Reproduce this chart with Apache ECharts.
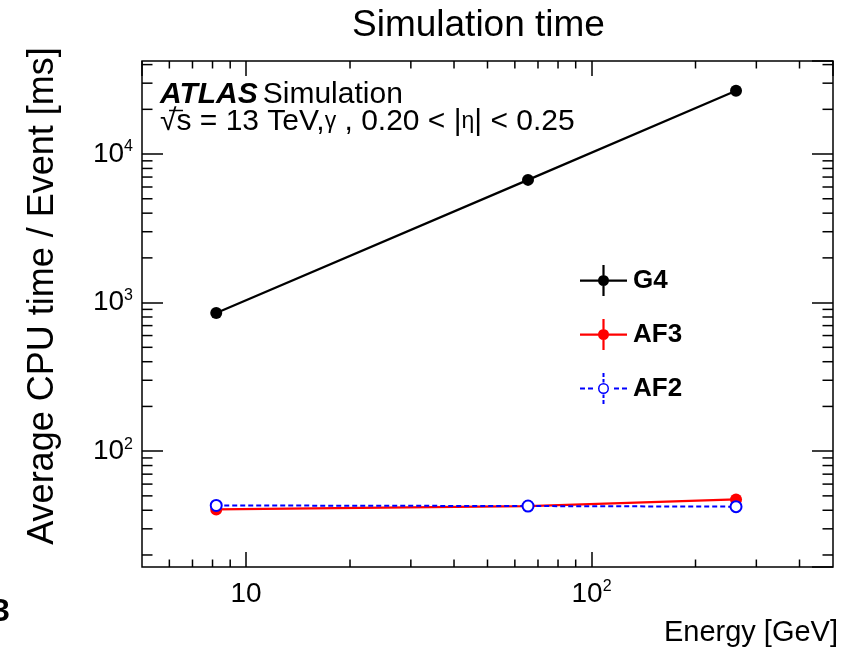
<!DOCTYPE html>
<html>
<head>
<meta charset="utf-8">
<script src="https://cdn.jsdelivr.net/npm/echarts@6/dist/echarts.min.js"></script>
<style>
  html, body { margin: 0; padding: 0; background: #fff; }
  #chart { width: 855px; height: 654px; }
</style>
</head>
<body>
<div id="chart"></div>
<script>
// photon energies [GeV]
const energies = [8.2, 65.5, 262]
// average CPU time per event [ms]
const g4 = [850, 6700, 26700]
const af3 = [40.5, 42.7, 47.3]
const af2 = [43.1, 42.7, 42.3]

const xRange = [5, 500]
const yRange = [16.6, 42300]
const xMinorTicks = [6, 7, 8, 9, 20, 30, 40, 50, 60, 70, 80, 90, 200, 300, 400]
const yMinorTicks = [20, 30, 40, 50, 60, 70, 80, 90,
  200, 300, 400, 500, 600, 700, 800, 900,
  2000, 3000, 4000, 5000, 6000, 7000, 8000, 9000,
  20000, 30000, 40000]

const FONT = '"Liberation Sans", Arial, Helvetica, sans-serif'
const BLACK = '#000000'
const RED = '#ff0000'
const BLUE = '#0000ff'

const chart = echarts.init(document.getElementById('chart'))

// "10", "10^2" ... only on exact decades
const powLabel = (v) => {
  const e = Math.log10(v)
  const r = Math.round(e)
  if (Math.abs(e - r) > 1e-6) return ''
  return r === 1 ? '{b|10}' : '{b|10}{s|' + r + '}'
}
const labelRich = {
  b: { fontSize: 28, lineHeight: 30, fontFamily: FONT, color: BLACK },
  s: { fontSize: 16, lineHeight: 16, fontFamily: FONT, color: BLACK, verticalAlign: 'top' }
}

// legend icons drawn in a 47 x 31 box
const rect = (x, y, w, h) => `M${x} ${y}h${w}v${h}h${-w}Z`
const dot = (cx, cy, r, sweep) =>
  `M${cx - r} ${cy}a${r} ${r} 0 1 ${sweep} ${2 * r} 0a${r} ${r} 0 1 ${sweep} ${-2 * r} 0Z`
const solidIcon = 'path://' + rect(0, 14.5, 47, 2.2) + rect(22.4, 0, 2.2, 31) + dot(23.5, 15.5, 5.5, 1)
const dashedIcon = 'path://' +
  rect(0, 14.5, 5, 2) + rect(8, 14.5, 5, 2) + rect(34, 14.5, 5, 2) + rect(42, 14.5, 5, 2) +
  rect(22.5, 0, 2, 4) + rect(22.5, 6, 2, 3.5) + rect(22.5, 21.5, 2, 3.5) + rect(22.5, 27, 2, 4) +
  dot(23.5, 15.5, 5.5, 1) + dot(23.5, 15.5, 4, 0)

const tickStyle = { color: BLACK, width: 1.5 }

const minorX = (params, api) => {
  const cs = params.coordSys
  const x = api.coord([api.value(0), api.value(1)])[0]
  const bottom = cs.y + cs.height
  return {
    type: 'group',
    children: [
      { type: 'line', shape: { x1: x, y1: bottom, x2: x, y2: bottom - 7.5 }, style: { stroke: BLACK, lineWidth: 1.5 } },
      { type: 'line', shape: { x1: x, y1: cs.y, x2: x, y2: cs.y + 7.5 }, style: { stroke: BLACK, lineWidth: 1.5 } }
    ]
  }
}
const minorY = (params, api) => {
  const cs = params.coordSys
  const y = api.coord([api.value(0), api.value(1)])[1]
  const right = cs.x + cs.width
  return {
    type: 'group',
    children: [
      { type: 'line', shape: { x1: cs.x, y1: y, x2: cs.x + 10.5, y2: y }, style: { stroke: BLACK, lineWidth: 1.5 } },
      { type: 'line', shape: { x1: right, y1: y, x2: right - 10.5, y2: y }, style: { stroke: BLACK, lineWidth: 1.5 } }
    ]
  }
}

chart.setOption({
  animation: false,
  backgroundColor: '#fff',
  title: [
    {
      text: 'Simulation time',
      left: 352,
      top: 7,
      padding: 0,
      textStyle: { fontFamily: FONT, fontSize: 37, fontWeight: 'normal', color: BLACK }
    },
    {
      text: '{a|ATLAS} {n|Simulation}\n{n|√s = 13 TeV,}{g|γ}{n| , 0.20 < |}{g|η}{n|| < 0.25}',
      left: 160,
      top: 81,
      padding: 0,
      textStyle: {
        fontWeight: 'normal',
        rich: {
          a: { fontFamily: FONT, fontSize: 30, fontWeight: 'bold', fontStyle: 'italic', color: BLACK, lineHeight: 27 },
          n: { fontFamily: FONT, fontSize: 30, fontWeight: 'normal', color: BLACK, lineHeight: 27 },
          g: { fontFamily: FONT, fontSize: 23, fontWeight: 'normal', color: BLACK, lineHeight: 27 }
        }
      }
    }
  ],
  legend: {
    orient: 'vertical',
    left: 580,
    top: 265,
    padding: 0,
    itemWidth: 47,
    itemHeight: 31,
    itemGap: 23,
    selectedMode: false,
    textStyle: { fontFamily: FONT, fontSize: 26, fontWeight: 'bold', color: BLACK, padding: [0, 0, 0, 1] },
    data: [
      { name: 'G4', icon: solidIcon, itemStyle: { color: BLACK, borderWidth: 0 } },
      { name: 'AF3', icon: solidIcon, itemStyle: { color: RED, borderWidth: 0 } },
      { name: 'AF2', icon: dashedIcon, itemStyle: { color: BLUE, borderWidth: 0 } }
    ]
  },
  grid: {
    left: 142,
    top: 61,
    width: 691,
    height: 506,
    show: true,
    borderColor: BLACK,
    borderWidth: 1.5,
    backgroundColor: 'transparent'
  },
  xAxis: [
    {
      type: 'log',
      logBase: 10,
      min: xRange[0],
      max: xRange[1],
      position: 'bottom',
      axisLine: { show: false },
      axisTick: { inside: true, length: 15, lineStyle: tickStyle },
      splitLine: { show: false },
      axisLabel: { margin: 12, formatter: powLabel, rich: labelRich, showMinLabel: false, showMaxLabel: false }
    },
    {
      type: 'log',
      logBase: 10,
      min: xRange[0],
      max: xRange[1],
      position: 'top',
      axisLine: { show: false },
      axisTick: { inside: true, length: 15, lineStyle: tickStyle },
      splitLine: { show: false },
      axisLabel: { show: false }
    }
  ],
  yAxis: [
    {
      type: 'log',
      logBase: 10,
      min: yRange[0],
      max: yRange[1],
      position: 'left',
      axisLine: { show: false },
      axisTick: { inside: true, length: 21, lineStyle: tickStyle },
      splitLine: { show: false },
      axisLabel: { margin: 9, formatter: powLabel, rich: labelRich, showMinLabel: false, showMaxLabel: false }
    },
    {
      type: 'log',
      logBase: 10,
      min: yRange[0],
      max: yRange[1],
      position: 'right',
      axisLine: { show: false },
      axisTick: { inside: true, length: 21, lineStyle: tickStyle },
      splitLine: { show: false },
      axisLabel: { show: false }
    }
  ],
  graphic: [
    {
      type: 'text',
      x: 43,
      y: 296,
      rotation: Math.PI / 2,
      style: {
        text: 'Average CPU time / Event [ms]',
        fontFamily: FONT,
        fontSize: 36,
        fill: BLACK,
        textAlign: 'center',
        textVerticalAlign: 'middle'
      }
    },
    {
      type: 'text',
      x: 838,
      y: 633,
      style: {
        text: 'Energy [GeV]',
        fontFamily: FONT,
        fontSize: 29,
        fill: BLACK,
        textAlign: 'right',
        textVerticalAlign: 'middle'
      }
    },
    {
      // bar of the square root over "s"
      type: 'line',
      shape: { x1: 169, y1: 110.5, x2: 183, y2: 110.5 },
      style: { stroke: BLACK, lineWidth: 1.5 }
    },
    {
      type: 'text',
      x: -8,
      y: 612,
      style: {
        text: '3',
        fontFamily: FONT,
        fontSize: 32,
        fontWeight: 'bold',
        fill: BLACK,
        textAlign: 'left',
        textVerticalAlign: 'middle'
      }
    }
  ],
  series: [
    {
      name: 'xMinor',
      type: 'custom',
      silent: true,
      clip: false,
      renderItem: minorX,
      data: xMinorTicks.map(v => [v, 100])
    },
    {
      name: 'yMinor',
      type: 'custom',
      silent: true,
      clip: false,
      renderItem: minorY,
      data: yMinorTicks.map(v => [10, v])
    },
    {
      name: 'G4',
      type: 'line',
      data: energies.map((e, i) => [e, g4[i]]),
      symbol: 'circle',
      symbolSize: 12,
      itemStyle: { color: BLACK },
      lineStyle: { color: BLACK, width: 2.2 },
      z: 3
    },
    {
      name: 'AF3',
      type: 'line',
      data: energies.map((e, i) => [e, af3[i]]),
      symbol: 'circle',
      symbolSize: 12,
      itemStyle: { color: RED },
      lineStyle: { color: RED, width: 2.2 },
      z: 4
    },
    {
      name: 'AF2',
      type: 'line',
      data: energies.map((e, i) => [e, af2[i]]),
      symbol: 'emptyCircle',
      symbolSize: 11,
      itemStyle: { color: BLUE, borderColor: BLUE, borderWidth: 1.5 },
      lineStyle: { color: BLUE, width: 2, type: [5, 3] },
      z: 5
    }
  ]
})
</script>
</body>
</html>
